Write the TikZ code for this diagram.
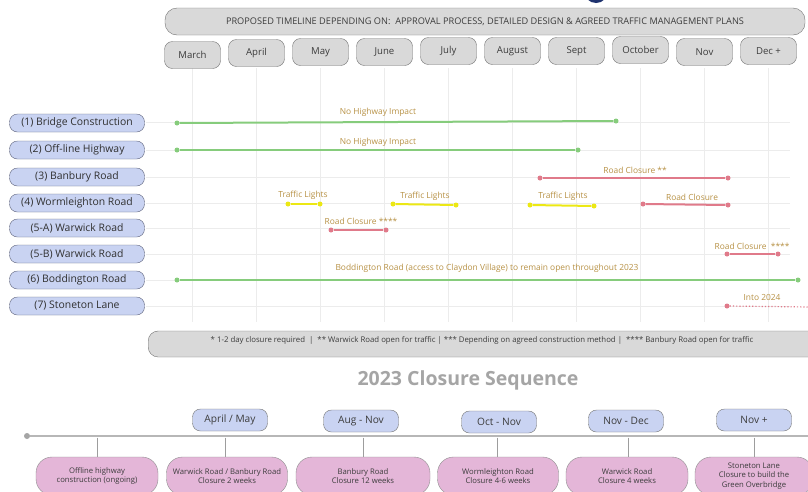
\documentclass[tikz,border=0pt]{standalone}
\usepackage{fontspec}
\setmainfont{Open Sans}
\definecolor{gbar}{RGB}{134,204,124}
\definecolor{rbar}{RGB}{224,122,138}
\definecolor{ybar}{RGB}{236,232,20}
\definecolor{tan}{RGB}{184,146,70}
\definecolor{lblue}{RGB}{201,211,242}
\definecolor{lborder}{RGB}{95,100,125}
\definecolor{mfill}{RGB}{217,217,217}
\definecolor{mborder}{RGB}{115,115,115}
\definecolor{pinkf}{RGB}{228,182,216}
\definecolor{gridc}{RGB}{236,236,236}
\definecolor{txt}{RGB}{60,60,60}
\definecolor{seqgray}{RGB}{165,165,165}
\definecolor{logo}{RGB}{30,50,110}
\begin{document}
\begin{tikzpicture}[x=1pt,y=-1pt,
  monthbox/.style={draw=mborder,fill=mfill,rounded corners=8pt,minimum width=56pt,minimum height=27pt,inner sep=0pt,font=\fontsize{9.6}{11}\selectfont,text=txt},
  rowlabel/.style={draw=lborder,fill=lblue,rounded corners=8pt,minimum width=135pt,minimum height=18pt,inner sep=0pt,font=\fontsize{10.4}{12}\selectfont,text=txt!80!black},
  barlabel/.style={font=\fontsize{8.4}{10}\selectfont,text=tan,inner sep=0pt},
  gdot/.style={circle,fill=gbar,inner sep=0pt,minimum size=5pt},
  rdot/.style={circle,fill=rbar,inner sep=0pt,minimum size=5pt},
  ydot/.style={circle,fill=ybar,inner sep=0pt,minimum size=5pt},
  gline/.style={draw=gbar,line width=2pt},
  rline/.style={draw=rbar,line width=2pt},
  yline/.style={draw=ybar,line width=2pt},
  gridline/.style={draw=gridc,line width=0.8pt},
  seqbox/.style={draw=mborder,fill=lblue,rounded corners=8pt,minimum width=75pt,minimum height=22pt,inner sep=0pt,font=\fontsize{10.2}{12}\selectfont,text=txt},
  pinkbox/.style={draw=mborder!80,fill=pinkf,rounded corners=16pt,minimum height=38pt,inner sep=0pt,align=center,font=\fontsize{7.7}{9.2}\selectfont,text=txt},
  stem/.style={draw=mborder!70,line width=0.6pt}
]
\useasboundingbox (0,0) rectangle (808,491);
\clip (0,0) rectangle (808,491);
\fill[white] (0,0) rectangle (808,491);
% partial logo
\fill[logo] (596,-9) circle (12);
% grid
\foreach \k in {0,...,9} {\draw[gridline] (192+64*\k,68) -- (192+64*\k,322);}
\foreach \y in {122,150,177,203,228,254,280,306} {\draw[gridline] (146,\y) -- (790,\y);}
% header
\node[draw=mborder,fill=mfill,rounded corners=12pt,minimum width=640pt,minimum height=27pt,inner sep=0pt,font=\fontsize{9.2}{11}\selectfont,text=txt] (hdr) at (485,21.5) {PROPOSED TIMELINE DEPENDING ON:\ \ APPROVAL PROCESS, DETAILED DESIGN \& AGREED TRAFFIC MANAGEMENT PLANS};
% months
\node[monthbox] (m1) at (192.5,55) {March};
\node[monthbox] (m2) at (256.5,53) {April};
\node[monthbox] (m3) at (320.5,52) {May};
\node[monthbox] (m4) at (384.5,52) {June};
\node[monthbox] (m5) at (448.5,51) {July};
\node[monthbox] (m6) at (512.5,51) {August};
\node[monthbox] (m7) at (576.5,51) {Sept};
\node[monthbox] (m8) at (640.5,50) {October};
\node[monthbox] (m9) at (704.5,52) {Nov};
\node[monthbox] (m10) at (768.5,51) {Dec +};
% row labels
\node[rowlabel] (r1) at (77,123) {(1) Bridge Construction};
\node[rowlabel] (r2) at (77,150) {(2) Off-line Highway};
\node[rowlabel] (r3) at (77,177) {(3) Banbury Road};
\node[rowlabel] (r4) at (77,203) {(4) Wormleighton Road};
\node[rowlabel] (r5) at (77,228) {(5-A) Warwick Road};
\node[rowlabel] (r6) at (77,254) {(5-B) Warwick Road};
\node[rowlabel] (r7) at (77,280) {(6) Boddington Road};
\node[rowlabel] (r8) at (77,306) {(7) Stoneton Lane};
% row 1
\node[gdot] (a1) at (177,123) {};
\node[gdot] (a2) at (616,121) {};
\draw[gline] (a1) -- (a2);
\node[barlabel] (l1) at (378,112) {No Highway Impact};
% row 2
\node[gdot] (b1) at (177,150) {};
\node[gdot] (b2) at (578,150) {};
\draw[gline] (b1) -- (b2);
\node[barlabel] (l2) at (378,142) {No Highway Impact};
% row 3
\node[rdot] (c1) at (540,178) {};
\node[rdot] (c2) at (728,178) {};
\draw[rline] (c1) -- (c2);
\node[barlabel] (l3) at (635,170) {Road Closure **};
% row 4
\node[ydot] (d1) at (288,204) {};
\node[ydot] (d2) at (320,204) {};
\draw[yline] (d1) -- (d2);
\node[barlabel] (l4a) at (303,195) {Traffic Lights};
\node[ydot] (d3) at (393,204) {};
\node[ydot] (d4) at (456,205) {};
\draw[yline] (d3) -- (d4);
\node[barlabel] (l4b) at (425,196) {Traffic Lights};
\node[ydot] (d5) at (530,205) {};
\node[ydot] (d6) at (594,206) {};
\draw[yline] (d5) -- (d6);
\node[barlabel] (l4c) at (563,196) {Traffic Lights};
\node[rdot] (d7) at (643,204) {};
\node[rdot] (d8) at (728,205) {};
\draw[rline] (d7) -- (d8);
\node[barlabel] (l4d) at (692,197) {Road Closure};
% row 5A
\node[rdot] (e1) at (331,230) {};
\node[rdot] (e2) at (386,230) {};
\draw[rline] (e1) -- (e2);
\node[barlabel] (l5) at (361,221) {Road Closure ****};
% row 5B
\node[rdot] (f1) at (727,254) {};
\node[rdot] (f2) at (778,254) {};
\draw[rline] (f1) -- (f2);
\node[barlabel] (l6) at (752,246) {Road Closure\ \ ****};
% row 6
\node[gdot] (g1) at (177,280) {};
\node[gdot] (g2) at (798,280) {};
\draw[gline] (g1) -- (g2);
\node[barlabel] (l7) at (487,268) {Boddington Road (access to Claydon Village) to remain open throughout 2023};
% row 7
\node[rdot] (h1) at (727,306) {};
\coordinate (h2) at (810,307);
\draw[draw=rbar,line width=1.2pt,dotted] (h1) -- (h2);
\node[barlabel] (l8) at (762,297) {Into 2024};
% footer
\node[draw=mborder,fill=mfill,rounded corners=10pt,minimum width=680pt,minimum height=26pt,inner sep=0pt,anchor=west] (foot) at (148,344) {};
\node[font=\fontsize{7.8}{9}\selectfont,text=txt,inner sep=0pt] (foottxt) at (482,340) {* 1-2 day closure required\ \ |\ \ ** Warwick Road open for traffic | *** Depending on agreed construction method |\ \ **** Banbury Road open for traffic};
% title
\node[font=\fontsize{19.5}{22}\selectfont\bfseries,text=seqgray] (title) at (468,380) {2023 Closure Sequence};
% sequence line
\node[circle,fill=seqgray,inner sep=0pt,minimum size=6pt] (s0) at (27,436) {};
\coordinate (s1) at (810,436);
\draw[draw=seqgray!80,line width=2.4pt] (s0) -- (s1);
% top boxes
\node[seqbox] (t1) at (230,420) {April / May};
\node[seqbox] (t2) at (361,421) {Aug - Nov};
\node[seqbox] (t3) at (499,422) {Oct - Nov};
\node[seqbox] (t4) at (626,421) {Nov - Dec};
\node[seqbox] (t5) at (754,420) {Nov +};
% pink boxes
\node[pinkbox,minimum width=122pt] (p1) at (97,476) {Offline highway\\construction (ongoing)};
\node[pinkbox,minimum width=121pt] (p2) at (227,476) {Warwick Road / Banbury Road\\Closure 2 weeks};
\node[pinkbox,minimum width=134pt] (p3) at (363,476) {Banbury Road\\Closure 12 weeks};
\node[pinkbox,minimum width=121pt] (p4) at (498,476) {Wormleighton Road\\Closure 4-6 weeks};
\node[pinkbox,minimum width=122pt] (p5) at (627,476) {Warwick Road\\Closure 4 weeks};
\node[pinkbox,minimum width=118pt] (p6) at (754,476) {Stoneton Lane\\Closure to build the\\Green Overbridge};
% stems
\foreach \x/\p in {97/p1,225/p2,363/p3,497/p4,628/p5,754/p6} {\draw[stem] (\x,437.5) -- (\p.north -| \x,0);}
\end{tikzpicture}
\end{document}
